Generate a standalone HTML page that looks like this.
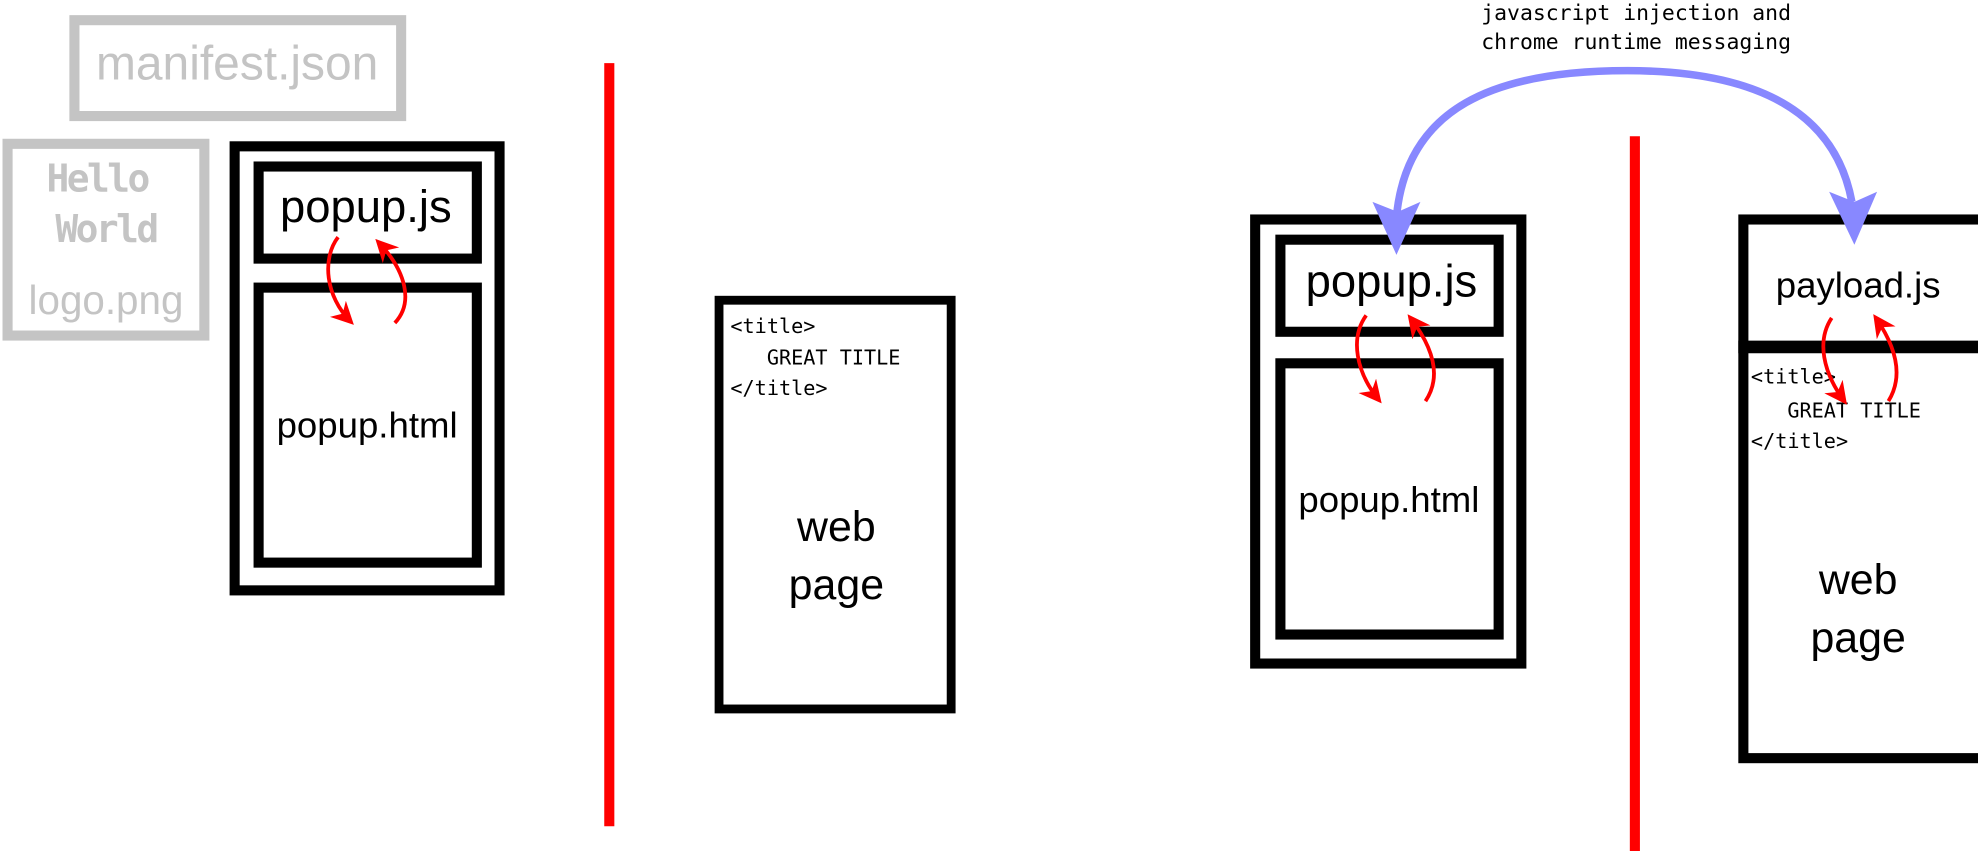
<!DOCTYPE html>
<html><head><meta charset="utf-8"><style>
html,body{margin:0;padding:0;background:#fff;}
svg{display:block;}
.sans{font-family:"Liberation Sans",Arial,sans-serif;}
.mono{font-family:"DejaVu Sans Mono","Liberation Mono",monospace;}
</style></head><body>
<svg width="1978" height="851" viewBox="0 0 1568 674.6" preserveAspectRatio="none">
<defs>
<marker id="ra" viewBox="0 0 10 10" refX="8" refY="5" markerWidth="6" markerHeight="6" orient="auto"><path d="M0,0 L10,5 L0,10 L3,5z" fill="#f00"/></marker>
</defs>
<g>
<rect x="59" y="16" width="259" height="76" fill="none" stroke="#c4c4c4" stroke-width="8"/>
<text x="188" y="63" text-anchor="middle" class="sans" font-size="38" fill="#c4c4c4">manifest.json</text>
</g>
<g>
<rect x="6" y="114" width="156" height="152" fill="none" stroke="#c4c4c4" stroke-width="8"/>
<text x="77" y="152" text-anchor="middle" class="mono" font-weight="bold" font-size="30" fill="#c4c4c4" letter-spacing="-2">Hello</text>
<text x="84" y="192" text-anchor="middle" class="mono" font-weight="bold" font-size="30" fill="#c4c4c4" letter-spacing="-2">World</text>
<text x="84" y="249" text-anchor="middle" class="sans" font-size="32" fill="#c4c4c4">logo.png</text>
</g>
<g fill="none" stroke="#000" stroke-width="8">
<rect x="186" y="116" width="210" height="352"/>
<rect x="205" y="132" width="173" height="73"/>
<rect x="205" y="228" width="173" height="218"/>
</g>
<text x="290" y="176" text-anchor="middle" class="sans" font-size="36">popup.js</text>
<text x="291" y="347" text-anchor="middle" class="sans" font-size="29">popup.html</text>
<g fill="none" stroke="#f00" stroke-width="3">
<path d="M268,188 C255,205 258,235 278,255" marker-end="url(#ra)"/>
<path d="M313,256 C328,240 322,215 300,192" marker-end="url(#ra)"/>
</g>
<line x1="483" y1="50" x2="483" y2="655" stroke="#f00" stroke-width="8"/>
<g>
<rect x="570" y="238" width="184" height="324" fill="none" stroke="#000" stroke-width="7"/>
<text x="579" y="264" class="mono" font-size="16">&lt;title&gt;</text>
<text x="579" y="289" class="mono" font-size="16" xml:space="preserve">   GREAT TITLE</text>
<text x="579" y="313" class="mono" font-size="16">&lt;/title&gt;</text>
<text x="663" y="429" text-anchor="middle" class="sans" font-size="34">web</text>
<text x="663" y="475" text-anchor="middle" class="sans" font-size="34">page</text>
</g>
<g fill="none" stroke="#000" stroke-width="8">
<rect x="995" y="174" width="211" height="352"/>
<rect x="1015" y="190" width="173" height="73"/>
<rect x="1015" y="288" width="173" height="215"/>
</g>
<text x="1103" y="235" text-anchor="middle" class="sans" font-size="36">popup.js</text>
<text x="1101" y="406" text-anchor="middle" class="sans" font-size="29">popup.html</text>
<g fill="none" stroke="#f00" stroke-width="3">
<path d="M1083,250 C1070,268 1075,295 1093,317" marker-end="url(#ra)"/>
<path d="M1130,318 C1142,300 1138,278 1118,252" marker-end="url(#ra)"/>
</g>
<line x1="1296" y1="108" x2="1296" y2="675" stroke="#f00" stroke-width="8"/>
<g>
<rect x="1382" y="174" width="190" height="427" fill="none" stroke="#000" stroke-width="8"/>
<line x1="1378" y1="275" x2="1572" y2="275" stroke="#000" stroke-width="10"/>
<text x="1473" y="236" text-anchor="middle" class="sans" font-size="29">payload.js</text>
<text x="1388" y="304" class="mono" font-size="16">&lt;title&gt;</text>
<text x="1388" y="331" class="mono" font-size="16" xml:space="preserve">   GREAT TITLE</text>
<text x="1388" y="355" class="mono" font-size="16">&lt;/title&gt;</text>
<text x="1473" y="471" text-anchor="middle" class="sans" font-size="34">web</text>
<text x="1473" y="517" text-anchor="middle" class="sans" font-size="34">page</text>
</g>
<g fill="none" stroke="#f00" stroke-width="3">
<path d="M1452,252 C1440,270 1445,295 1462,318" marker-end="url(#ra)"/>
<path d="M1497,318 C1508,300 1505,278 1487,252" marker-end="url(#ra)"/>
</g>
<path d="M1107,172 C1115,85 1185,56 1290,56 C1395,56 1455,90 1468,160" fill="none" stroke="#8888ff" stroke-width="6"/>
<path d="M1088,160 L1108,168 L1126,160 L1107,202z" fill="#8888ff"/>
<path d="M1450,152 L1470,160 L1488,152 L1470,194z" fill="#8888ff"/>
<text x="1297" y="16" text-anchor="middle" class="mono" font-size="17">javascript injection and</text>
<text x="1297" y="39" text-anchor="middle" class="mono" font-size="17">chrome runtime messaging</text>
</svg>
</body></html>
